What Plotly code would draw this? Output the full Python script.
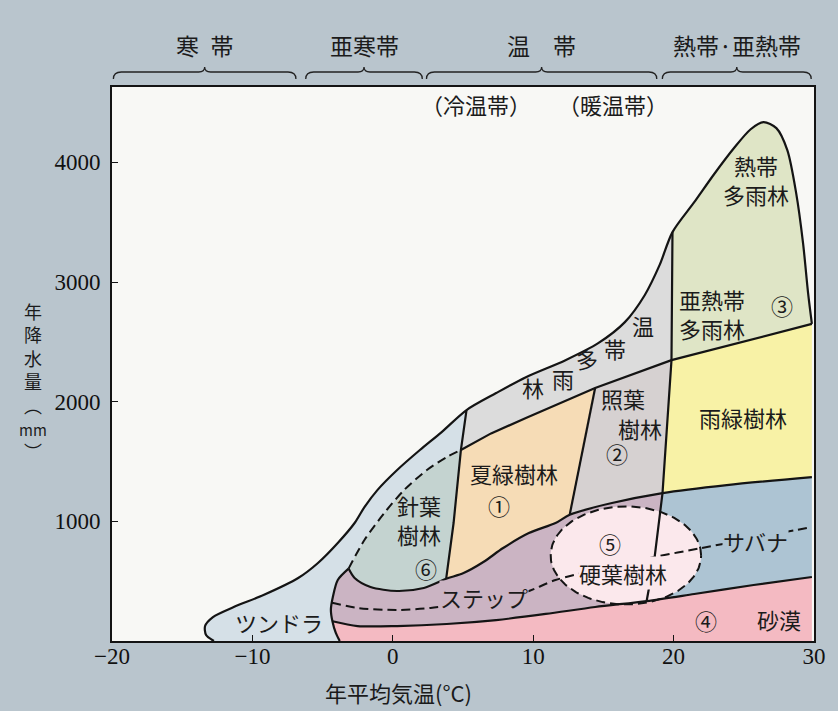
import numpy as np
import plotly.graph_objects as go

# ---------------- data: boundary curves (annual mean temperature °C, annual precipitation mm) ----------------
envelope_lower = [(-12.74, 0), (-13.30, 50), (-13.37, 125), (-12.81, 200), (-11.33, 284), (-9.21, 384),
                  (-6.74, 526), (-5.33, 652), (-3.92, 819), (-2.72, 986), (-2.02, 1119), (-1.10, 1261),
                  (0.31, 1429), (1.93, 1596), (3.48, 1746), (5.25, 1930)]
envelope_mid = [(5.25, 1930), (7.36, 2072), (9.48, 2205), (12.30, 2347), (14.63, 2489), (16.53, 2665),
                (17.94, 2890), (19.0, 3141), (19.92, 3417)]
envelope_top = [(19.92, 3417), (21.47, 3667), (22.88, 3901), (24.29, 4118), (25.49, 4277), (26.40, 4336),
                (27.32, 4286), (28.10, 4102), (28.73, 3743), (29.22, 3325), (29.58, 2907), (29.85, 2650)]

v1_upper = [(5.25, 1930), (4.85, 1596)]
v1_lower = [(4.85, 1596), (4.33, 986), (3.80, 520)]
d1_conifer = [(-3.15, 605), (-2.02, 844), (-0.61, 1069), (0.80, 1261), (2.43, 1429), (3.84, 1537),
              (4.85, 1596)]
sl_upper = [(-3.15, 605), (-3.92, 510), (-4.27, 368), (-4.41, 259), (-4.30, 165)]
sl_lower = [(-4.30, 165), (-4.06, 67), (-3.78, 0)]
st1 = [(-3.15, 605), (-2.72, 526), (-1.59, 451), (0.31, 418), (2.21, 443), (3.80, 520)]
st2 = [(3.80, 520), (5.04, 568), (6.45, 660), (7.86, 777), (9.69, 902), (11.59, 986), (12.60, 1055)]
st3 = [(12.60, 1055), (15.61, 1153), (19.21, 1236)]
st4 = [(19.21, 1236), (23.79, 1303), (29.85, 1370)]
r1a = [(4.85, 1596), (7.0, 1735), (9.48, 1863), (14.41, 2114)]
r1b = [(14.41, 2114), (19.85, 2347)]
r1c = [(19.85, 2347), (24.8, 2500), (29.85, 2650)]
v2 = [(14.41, 2114), (12.60, 1055)]
v3a = [(19.92, 3417), (19.85, 2347)]
v3b = [(19.85, 2347), (19.21, 1236)]
v3c = [(19.21, 1236), (18.65, 702), (18.08, 334)]
dt1 = [(-4.30, 165), (-2.51, 125), (0.31, 125), (3.84, 142), (7.36, 175), (10.89, 226), (14.41, 284),
       (18.08, 334)]
dt2 = [(18.08, 334), (21.47, 393), (25.70, 468), (29.85, 535)]
d2_steppe = [(-4.33, 320), (-2.51, 276), (0.31, 259), (2.69, 276), (6.66, 343), (9.48, 409), (11.59, 510),
             (14.41, 593), (18.65, 702), (22.0, 777), (25.70, 860), (29.85, 952)]
t_edge = 29.85

ellipse_center = (16.6, 715)
ellipse_radius = (5.36, 410)

zone_names = ["寒\u2002帯", "亜寒帯", "温\u3000帯", "熱帯·亜熱帯"]
zone_from = [-19.9, -6.2, 2.4, 19.2]
zone_to = [-6.9, 2.1, 18.8, 29.8]

x_ticks = [-20, -10, 0, 10, 20, 30]
x_tick_text = ["\u221220", "\u221210", "0", "10", "20", "30"]
y_ticks = [1000, 2000, 3000, 4000]

# labels: text, T, P, mask colour key
region_labels = [
    ("熱帯<br>多雨林", 25.84, 3860, None),
    ("亜熱帯<br>多雨林", 22.77, 2740, None), ("③", 27.74, 2807, None),
    ("雨緑樹林", 24.92, 1871, None),
    ("照葉", 16.39, 2030, None), ("樹林", 17.59, 1780, None), ("②", 15.97, 1571, None),
    ("夏緑樹林", 8.63, 1403, None), ("①", 7.57, 1136, None),
    ("針葉<br>樹林", 1.86, 1019, None), ("⑥", 2.36, 610, None),
    ("ツンドラ", -8.08, 159, None),
    ("ステップ", 6.52, 368, "steppe"),
    ("⑤", 15.47, 815, None), ("硬葉樹林", 16.39, 565, "sclero"),
    ("サバナ", 25.84, 835, "savanna"),
    ("④", 22.31, 175, None), ("砂漠", 27.53, 184, None),
    ("林", 9.97, 2122, None), ("雨", 12.09, 2197, None), ("多", 13.85, 2364, None),
    ("帯", 15.83, 2448, None), ("温", 17.80, 2640, None),
    ("（冷温帯）", 5.95, 4486, None), ("（暖温帯）", 15.68, 4486, None),
]

colors = {
    "tundra": "#d5e0e7", "conifer": "#c4d3d0", "temprain": "#dcdcdc", "summer": "#f6dcb6",
    "laurel": "#d6d1d1", "tropical": "#dfe5c6", "raingreen": "#f8f2a6", "savanna": "#adc4d3",
    "steppe": "#cbb4c3", "desert": "#f4bac2", "sclero": "#fbe8ec",
}

# ---------------- build figure ----------------
def R(c):
    return c[::-1]


def chain(*parts):
    pts = []
    for p in parts:
        if pts and tuple(pts[-1]) == tuple(p[0]):
            pts.extend(p[1:])
        else:
            pts.extend(p)
    return [q[0] for q in pts], [q[1] for q in pts]


regions = {
    "tundra": chain(envelope_lower, v1_upper, R(d1_conifer), sl_upper, sl_lower),
    "conifer": chain(d1_conifer, v1_lower, R(st1)),
    "temprain": chain(envelope_mid, v3a, R(r1b), R(r1a), R(v1_upper)),
    "summer": chain(r1a, v2, R(st2), R(v1_lower)),
    "laurel": chain(r1b, v3b, R(st3), R(v2)),
    "tropical": chain(envelope_top, R(r1c), R(v3a)),
    "raingreen": chain(r1c, R(st4), R(v3b)),
    "savanna": chain(st4, R(dt2), R(v3c)),
    "steppe": chain(st1, st2, st3, v3c, R(dt1), R(sl_upper)),
    "desert": chain(dt1, dt2, [(t_edge, 0)], R(sl_lower)),
}

fig = go.Figure()
for key, (xs, ys) in regions.items():
    fig.add_trace(go.Scatter(x=xs, y=ys, mode="lines", fill="toself", fillcolor=colors[key],
                             line=dict(width=0), hoverinfo="skip", showlegend=False))

th = np.linspace(0, 2 * np.pi, 181)
ex = ellipse_center[0] + ellipse_radius[0] * np.cos(th)
ey = ellipse_center[1] + ellipse_radius[1] * np.sin(th)
fig.add_trace(go.Scatter(x=ex, y=ey, mode="lines", fill="toself", fillcolor=colors["sclero"],
                         line=dict(width=0), hoverinfo="skip", showlegend=False))

LINE = "#141414"
solid = [
    (chain(envelope_lower, envelope_mid, envelope_top), "spline"),
    (chain(v1_upper, v1_lower), "linear"),
    (chain(r1a, r1b, r1c), "linear"),
    (chain(v2), "linear"),
    (chain(v3a, v3b, v3c), "linear"),
    (chain(st1, st2, st3, st4), "spline"),
    (chain(sl_upper, sl_lower), "spline"),
    (chain(dt1, dt2), "spline"),
]
for (xs, ys), shp in solid:
    fig.add_trace(go.Scatter(x=xs, y=ys, mode="lines", line=dict(color=LINE, width=2.2, shape=shp,
                                                                  smoothing=0.8),
                             hoverinfo="skip", showlegend=False))
for curve in (d1_conifer, d2_steppe):
    xs, ys = chain(curve)
    fig.add_trace(go.Scatter(x=xs, y=ys, mode="lines",
                             line=dict(color=LINE, width=2, dash="9px,5px", shape="spline", smoothing=0.8),
                             hoverinfo="skip", showlegend=False))
fig.add_trace(go.Scatter(x=ex, y=ey, mode="lines", line=dict(color=LINE, width=2, dash="9px,5px"),
                         hoverinfo="skip", showlegend=False))

JP = "Noto Sans CJK JP"
TXT = "#1b1b1b"
ann = []
for text, t, p, mask in region_labels:
    a = dict(x=t, y=p, xref="x", yref="y", text=text, showarrow=False, borderpad=0,
             font=dict(family=JP, size=22, color=TXT), xanchor="center", yanchor="middle")
    if mask:
        a["bgcolor"] = colors[mask]
    ann.append(a)

X0, X1 = -20, 30
Y0, Y1 = 0, 4630


def xp(t):
    return (t - X0) / (X1 - X0)


shapes = []
ytip, ymain, ypeak = 1.0144, 1.0271, 1.0361
dx, dk = 8 / 709, 6 / 709
for name, a, b in zip(zone_names, zone_from, zone_to):
    x0, x1 = xp(a), xp(b)
    xm = (x0 + x1) / 2
    path = (f"M {x0},{ytip} Q {x0},{ymain} {x0+dx},{ymain} L {xm-dk},{ymain} "
            f"Q {xm},{ymain} {xm},{ypeak} Q {xm},{ymain} {xm+dk},{ymain} "
            f"L {x1-dx},{ymain} Q {x1},{ymain} {x1},{ytip}")
    shapes.append(dict(type="path", path=path, xref="paper", yref="paper",
                       line=dict(color="#222", width=1.3)))
    ann.append(dict(x=xm, y=1.076, xref="paper", yref="paper", text=name, showarrow=False,
                    font=dict(family=JP, size=23, color=TXT), xanchor="center", yanchor="middle"))

# axis titles
ann.append(dict(x=-0.113, y=0.47, xref="paper", yref="paper",
                text="年<br>降<br>水<br>量<br>︵<br><span style='font-size:15px'>mm</span><br>︶",
                showarrow=False, font=dict(family=JP, size=18, color=TXT), xanchor="center",
                yanchor="middle"))
ann.append(dict(x=0.408, y=-0.092, xref="paper", yref="paper", text="年平均気温(°C)", showarrow=False,
                font=dict(family=JP, size=22, color=TXT), xanchor="center", yanchor="middle"))

axis_common = dict(showgrid=False, zeroline=False, showline=True, mirror=True, linecolor=LINE,
                   linewidth=2, ticks="inside", ticklen=6, tickwidth=1.2, tickcolor=LINE,
                   tickfont=dict(family="Liberation Serif", size=23, color="#111"))
fig.update_layout(
    width=838, height=711,
    margin=dict(l=112, r=17, t=87, b=70),
    paper_bgcolor="#b9c5cd", plot_bgcolor="#f8f8f5",
    xaxis=dict(range=[X0, X1], tickvals=x_ticks, ticktext=x_tick_text, ticklabelstandoff=-7,
               **axis_common),
    yaxis=dict(range=[Y0, Y1], tickvals=y_ticks, ticklabelstandoff=5, **axis_common),
    annotations=ann, shapes=shapes, showlegend=False,
)
fig.write_html("out.html", config={"displayModeBar": False},
               post_script="document.body.style.margin='0px';")
